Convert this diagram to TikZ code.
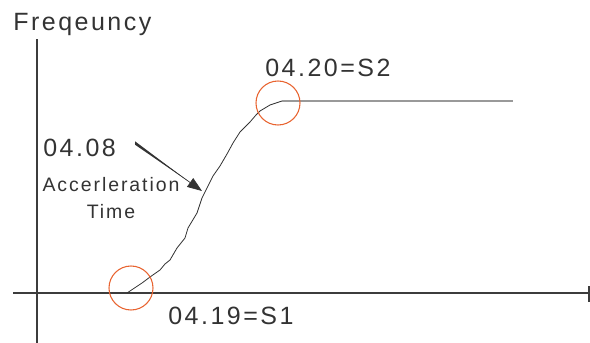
\documentclass[tikz,border=0pt]{standalone}
\usepackage{fontspec}
\setmainfont{Liberation Sans}
\newfontfamily\labelfont[LetterSpace=10]{Liberation Sans}
\usetikzlibrary{arrows.meta}
\definecolor{axisgray}{HTML}{3C3C3C}
\definecolor{textgray}{HTML}{333333}
\definecolor{flatgray}{HTML}{999999}
\definecolor{markred}{HTML}{E8632F}

\begin{document}
\begin{tikzpicture}[x=0.75pt, y=-0.75pt,
    every node/.style={inner sep=0pt, text=textgray, anchor=base west},
    biglabel/.style={font=\labelfont\fontsize{18.75}{22}\selectfont},
    smalllabel/.style={font=\labelfont\fontsize{14.6}{20.25}\selectfont, align=center},
    marker/.style={draw=markred, line width=0.8pt}]
  \useasboundingbox (0,0) rectangle (590,343);

  % Axes
  \draw[axisgray, line width=1.1pt] (37,39) -- (37,343);
  \draw[axisgray, line width=1.5pt] (13,293) -- (589,293);
  \draw[axisgray, line width=1.2pt] (589,286) -- (589,302);
  \node[biglabel] (freq) at (13,30) {Freqeuncy};

  % S-curve: flat start, ramp, flat end
  \coordinate (s1) at (127,293);
  \coordinate (s2) at (282,101);
  \draw[axisgray, line width=2.2pt] (52,293) -- (s1);
  \draw[textgray, line width=0.6pt] (s1) -- (133,289) -- (142,283) -- (150,277)
    -- (160,270) -- (165,264) -- (170,260) -- (177,248) -- (185,238) -- (188,228)
    -- (197,213) -- (202,198) -- (207,188) -- (213,176) -- (220,166) -- (227,154)
    -- (233,143) -- (240,132) -- (250,122) -- (256,115) -- (260,111) -- (270,105) -- (s2);
  \draw[flatgray, line width=1.4pt] (s2) -- (513,101);

  % S-curve markers
  \draw[marker] (131,288) circle (16.5pt);
  \draw[marker] (278,103) circle (16.5pt);
  \node[biglabel] (lowS) at (168,324) {04.19=S1};
  \node[biglabel] (highS) at (265,76) {04.20=S2};

  % Acceleration time label and pointer
  \node[biglabel] (acc) at (43,156) {04.08};
  \node[smalllabel, anchor=base] (acctext) at (111,218) {Accerleration\\Time};
  \coordinate (ptrfrom) at (135,143);
  \coordinate (ptrto) at (202,191);
  \fill[textgray] (135,141.3) -- (135,144.7) -- (190,182.5) -- cycle;
  \draw[textgray, line width=0.5pt, -{Triangle[length=11pt, width=8pt]}] (ptrfrom) -- (ptrto);
\end{tikzpicture}
\end{document}
